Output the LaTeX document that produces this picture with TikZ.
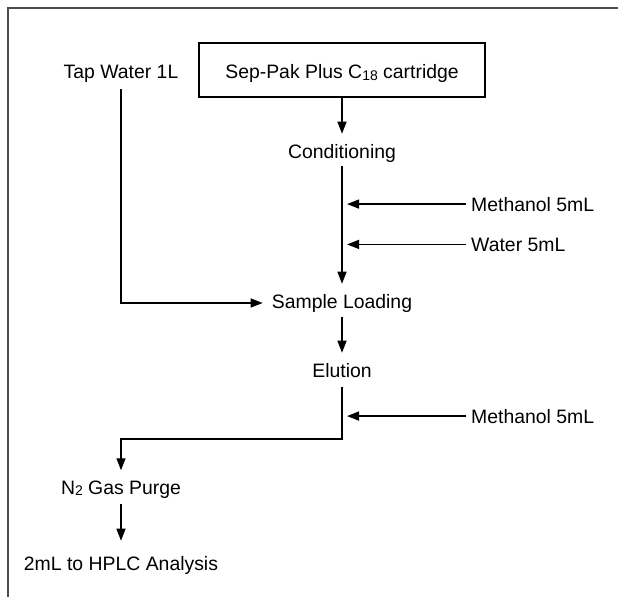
\documentclass[tikz,border=0pt]{standalone}
\usepackage{fontspec}
\setmainfont{Liberation Sans}
\usetikzlibrary{arrows.meta,calc}
\newcommand{\lowsmall}[1]{\raisebox{-1.5pt}{\fontsize{14}{14}\selectfont #1}}
\begin{document}
\begin{tikzpicture}[x=1pt,y=-1pt,
  lbl/.style={inner sep=0pt, anchor=base, font=\fontsize{19.4}{23}\selectfont},
  rlbl/.style={lbl, anchor=base west},
  arr/.style={line width=1.3pt, -{Triangle[length=12pt,width=9pt]}},
  frame/.style={line width=1.6pt, black!70}]
\useasboundingbox (0,0) rectangle (618,599);
\draw[frame] (618,8) -- (8,8) -- (8,597);

\node[lbl] (tap) at (121,79) {Tap Water 1L};
\node[lbl, draw, line width=1.2pt, text height=36pt, text depth=18pt, minimum width=286pt] (box) at (342,79) {Sep-Pak Plus C\lowsmall{18} cartridge};
\node[lbl] (cond) at (342,158) {Conditioning};
\node[rlbl] (meth1) at (471,211) {Methanol 5mL};
\node[rlbl] (water) at (471,251) {Water 5mL};
\node[lbl] (load) at (342,308) {Sample Loading};
\node[lbl] (elu) at (342,377) {Elution};
\node[rlbl] (meth2) at (471,423) {Methanol 5mL};
\node[lbl] (n2) at (121,494) {N\lowsmall{2} Gas Purge};
\node[lbl] (hplc) at (121,570) {2mL to HPLC Analysis};

\coordinate (bend) at (342,439);

\draw[arr] (box.south) -- ([yshift=10pt]cond.north);
\draw[arr] ($(cond.south)+(0,4)$) -- ([yshift=10pt]load.north);
\draw[arr] ([xshift=-5pt]meth1.west) -- ($(meth1.west -| cond.center)+(5,0)$);
\draw[arr] ([xshift=-5pt]water.west) -- ($(water.west -| cond.center)+(5,0)$);
\draw[arr] ($(tap.south)+(0,6)$) |- ($(load.west)+(-9,0)$);
\draw[arr] ($(load.south)+(0,5)$) -- ([yshift=10pt]elu.north);
\draw[arr] ($(elu.south)+(0,10)$) -- (bend) -| ([yshift=10pt]n2.north);
\draw[arr] ([xshift=-5pt]meth2.west) -- ($(meth2.west -| elu.center)+(5,0)$);
\draw[arr] ($(n2.south)+(0,6)$) -- ([yshift=15pt]hplc.north);
\end{tikzpicture}
\end{document}
